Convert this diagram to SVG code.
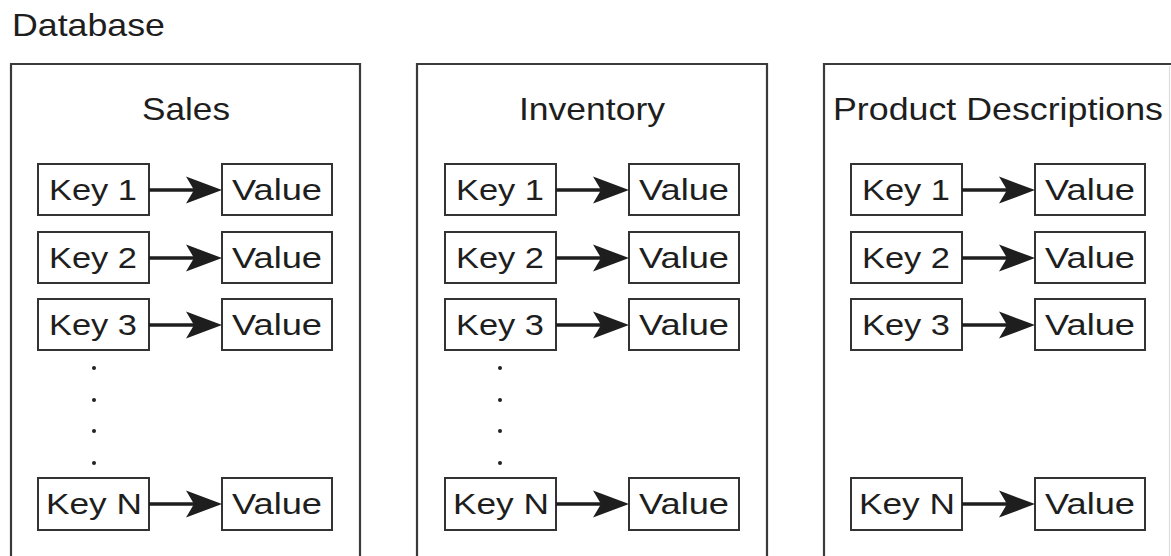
<svg xmlns="http://www.w3.org/2000/svg" width="1171" height="556" viewBox="0 0 1171 556">
  <style>
    .lbl { font-family: "Liberation Sans", Arial, sans-serif; fill: #1e1e1e; }
    .title { font-size: 32px; }
    .cell-text { font-size: 30px; }
    .panel { fill: none; stroke: #3a3a3a; stroke-width: 2.2; }
    .cell { fill: #fff; stroke: #333; stroke-width: 2; }
    .link { stroke: #1e1e1e; stroke-width: 3.4; fill: none; }
    .dot { fill: #222; }
  </style>
  <defs>
    <!-- swept-back arrowhead, tip at x=0 -->
    <path id="head" d="M0,0 L-36,-13.5 L-28,0 L-36,13.5 Z" fill="#1e1e1e"/>
  </defs>

  <rect width="1171" height="556" fill="#fff"/>

  <text class="lbl title" x="12" y="36" textLength="153" lengthAdjust="spacingAndGlyphs">Database</text>

  <!-- Sales table -->
  <g id="sales">
    <path class="panel" d="M11,570 V64 H360 V570"/>
    <text class="lbl title" x="142" y="120" textLength="88" lengthAdjust="spacingAndGlyphs">Sales</text>
    <rect class="cell" x="38" y="164" width="111" height="51"/>
    <text class="lbl cell-text" x="49" y="200" textLength="88" lengthAdjust="spacingAndGlyphs">Key 1</text>
    <rect class="cell" x="222" y="164" width="110" height="51"/>
    <text class="lbl cell-text" x="232" y="200" textLength="90" lengthAdjust="spacingAndGlyphs">Value</text>
    <rect class="cell" x="38" y="232" width="111" height="51"/>
    <text class="lbl cell-text" x="49" y="268" textLength="88" lengthAdjust="spacingAndGlyphs">Key 2</text>
    <rect class="cell" x="222" y="232" width="110" height="51"/>
    <text class="lbl cell-text" x="232" y="268" textLength="90" lengthAdjust="spacingAndGlyphs">Value</text>
    <rect class="cell" x="38" y="299" width="111" height="51"/>
    <text class="lbl cell-text" x="49" y="335" textLength="88" lengthAdjust="spacingAndGlyphs">Key 3</text>
    <rect class="cell" x="222" y="299" width="110" height="51"/>
    <text class="lbl cell-text" x="232" y="335" textLength="90" lengthAdjust="spacingAndGlyphs">Value</text>
    <circle class="dot" cx="94" cy="368" r="2"/>
    <circle class="dot" cx="94" cy="400" r="2"/>
    <circle class="dot" cx="94" cy="431" r="2"/>
    <circle class="dot" cx="94" cy="463" r="2"/>
    <rect class="cell" x="38" y="478" width="111" height="52"/>
    <text class="lbl cell-text" x="46" y="514" textLength="96" lengthAdjust="spacingAndGlyphs">Key N</text>
    <rect class="cell" x="222" y="478" width="110" height="52"/>
    <text class="lbl cell-text" x="232" y="514" textLength="90" lengthAdjust="spacingAndGlyphs">Value</text>
  </g>

  <!-- Inventory table -->
  <g id="inventory">
    <path class="panel" d="M417,570 V64 H767 V570"/>
    <text class="lbl title" x="519" y="120" textLength="146" lengthAdjust="spacingAndGlyphs">Inventory</text>
    <rect class="cell" x="445" y="164" width="111" height="51"/>
    <text class="lbl cell-text" x="456" y="200" textLength="88" lengthAdjust="spacingAndGlyphs">Key 1</text>
    <rect class="cell" x="629" y="164" width="110" height="51"/>
    <text class="lbl cell-text" x="639" y="200" textLength="90" lengthAdjust="spacingAndGlyphs">Value</text>
    <rect class="cell" x="445" y="232" width="111" height="51"/>
    <text class="lbl cell-text" x="456" y="268" textLength="88" lengthAdjust="spacingAndGlyphs">Key 2</text>
    <rect class="cell" x="629" y="232" width="110" height="51"/>
    <text class="lbl cell-text" x="639" y="268" textLength="90" lengthAdjust="spacingAndGlyphs">Value</text>
    <rect class="cell" x="445" y="299" width="111" height="51"/>
    <text class="lbl cell-text" x="456" y="335" textLength="88" lengthAdjust="spacingAndGlyphs">Key 3</text>
    <rect class="cell" x="629" y="299" width="110" height="51"/>
    <text class="lbl cell-text" x="639" y="335" textLength="90" lengthAdjust="spacingAndGlyphs">Value</text>
    <circle class="dot" cx="500" cy="368" r="2"/>
    <circle class="dot" cx="500" cy="400" r="2"/>
    <circle class="dot" cx="500" cy="431" r="2"/>
    <circle class="dot" cx="500" cy="463" r="2"/>
    <rect class="cell" x="445" y="478" width="111" height="52"/>
    <text class="lbl cell-text" x="453" y="514" textLength="96" lengthAdjust="spacingAndGlyphs">Key N</text>
    <rect class="cell" x="629" y="478" width="110" height="52"/>
    <text class="lbl cell-text" x="639" y="514" textLength="90" lengthAdjust="spacingAndGlyphs">Value</text>
  </g>

  <!-- Product Descriptions table -->
  <g id="product-descriptions">
    <path class="panel" d="M824,570 V64 H1171"/>
    <line x1="1169.5" y1="66" x2="1169.5" y2="570" stroke="#ddd" stroke-width="1.2"/>
    <text class="lbl title" x="833" y="120" textLength="330" lengthAdjust="spacingAndGlyphs">Product Descriptions</text>
    <rect class="cell" x="851" y="164" width="111" height="51"/>
    <text class="lbl cell-text" x="862" y="200" textLength="88" lengthAdjust="spacingAndGlyphs">Key 1</text>
    <rect class="cell" x="1035" y="164" width="110" height="51"/>
    <text class="lbl cell-text" x="1045" y="200" textLength="90" lengthAdjust="spacingAndGlyphs">Value</text>
    <rect class="cell" x="851" y="232" width="111" height="51"/>
    <text class="lbl cell-text" x="862" y="268" textLength="88" lengthAdjust="spacingAndGlyphs">Key 2</text>
    <rect class="cell" x="1035" y="232" width="110" height="51"/>
    <text class="lbl cell-text" x="1045" y="268" textLength="90" lengthAdjust="spacingAndGlyphs">Value</text>
    <rect class="cell" x="851" y="299" width="111" height="51"/>
    <text class="lbl cell-text" x="862" y="335" textLength="88" lengthAdjust="spacingAndGlyphs">Key 3</text>
    <rect class="cell" x="1035" y="299" width="110" height="51"/>
    <text class="lbl cell-text" x="1045" y="335" textLength="90" lengthAdjust="spacingAndGlyphs">Value</text>
    <rect class="cell" x="851" y="478" width="111" height="52"/>
    <text class="lbl cell-text" x="859" y="514" textLength="96" lengthAdjust="spacingAndGlyphs">Key N</text>
    <rect class="cell" x="1035" y="478" width="110" height="52"/>
    <text class="lbl cell-text" x="1045" y="514" textLength="90" lengthAdjust="spacingAndGlyphs">Value</text>
  </g>

  <!-- key to value connectors -->
  <g id="connectors">
    <line class="link" x1="149" y1="190" x2="200" y2="190"/><use href="#head" x="222" y="190"/>
    <line class="link" x1="149" y1="258" x2="200" y2="258"/><use href="#head" x="222" y="258"/>
    <line class="link" x1="149" y1="325" x2="200" y2="325"/><use href="#head" x="222" y="325"/>
    <line class="link" x1="149" y1="504" x2="200" y2="504"/><use href="#head" x="222" y="504"/>

    <line class="link" x1="556" y1="190" x2="607" y2="190"/><use href="#head" x="629" y="190"/>
    <line class="link" x1="556" y1="258" x2="607" y2="258"/><use href="#head" x="629" y="258"/>
    <line class="link" x1="556" y1="325" x2="607" y2="325"/><use href="#head" x="629" y="325"/>
    <line class="link" x1="556" y1="504" x2="607" y2="504"/><use href="#head" x="629" y="504"/>

    <line class="link" x1="962" y1="190" x2="1013" y2="190"/><use href="#head" x="1035" y="190"/>
    <line class="link" x1="962" y1="258" x2="1013" y2="258"/><use href="#head" x="1035" y="258"/>
    <line class="link" x1="962" y1="325" x2="1013" y2="325"/><use href="#head" x="1035" y="325"/>
    <line class="link" x1="962" y1="504" x2="1013" y2="504"/><use href="#head" x="1035" y="504"/>
  </g>
</svg>
